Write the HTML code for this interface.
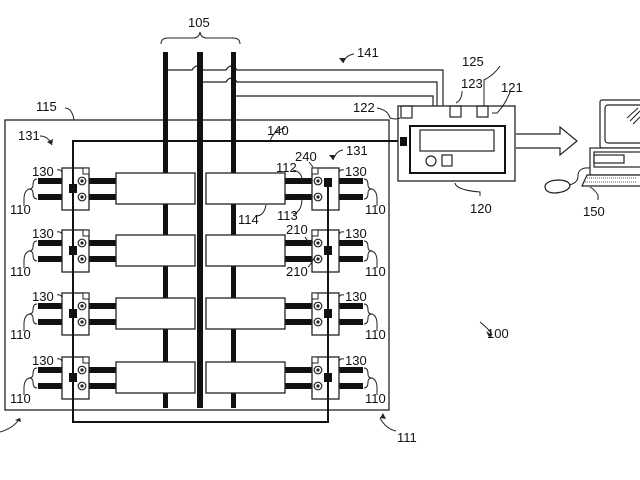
<!DOCTYPE html>
<html><head><meta charset="utf-8"><style>
html,body{margin:0;padding:0;background:#fff;}
svg{display:block;}
text{font-family:"Liberation Sans",sans-serif;font-size:13px;fill:#111;}
</style></head><body>
<svg width="640" height="480" viewBox="0 0 640 480" xmlns="http://www.w3.org/2000/svg">
<defs>
<g id="row">
  <rect x="38" y="5" width="78" height="6" fill="#111"/>
  <rect x="38" y="21" width="78" height="6" fill="#111"/>
  <rect x="285" y="5" width="78" height="6" fill="#111"/>
  <rect x="285" y="21" width="78" height="6" fill="#111"/>
  <rect x="62" y="-5" width="27" height="42" fill="#fff" stroke="#222" stroke-width="1.3"/>
  <rect x="83" y="-5" width="6" height="6" fill="#fff" stroke="#222" stroke-width="1"/>
  <circle cx="82" cy="8" r="3.8" fill="#fff" stroke="#222" stroke-width="1.2"/>
  <circle cx="82" cy="8" r="1.6" fill="#222"/>
  <circle cx="82" cy="24" r="3.8" fill="#fff" stroke="#222" stroke-width="1.2"/>
  <circle cx="82" cy="24" r="1.6" fill="#222"/>
  <rect x="312" y="-5" width="27" height="42" fill="#fff" stroke="#222" stroke-width="1.3"/>
  <rect x="312" y="-5" width="6" height="6" fill="#fff" stroke="#222" stroke-width="1"/>
  <circle cx="318" cy="8" r="3.8" fill="#fff" stroke="#222" stroke-width="1.2"/>
  <circle cx="318" cy="8" r="1.6" fill="#222"/>
  <circle cx="318" cy="24" r="3.8" fill="#fff" stroke="#222" stroke-width="1.2"/>
  <circle cx="318" cy="24" r="1.6" fill="#222"/>
  <path d="M37,6 Q33,6 33,12 Q33,16 29,16 Q33,16 33,20 Q33,26 37,26" fill="none" stroke="#222" stroke-width="1"/>
  <path d="M29,16 Q24,18 24,26 L24,33" fill="none" stroke="#222" stroke-width="1"/>
  <path d="M364,6 Q368,6 368,12 Q368,16 372,16 Q368,16 368,20 Q368,26 364,26" fill="none" stroke="#222" stroke-width="1"/>
  <path d="M372,16 Q377,18 377,26 L377,33" fill="none" stroke="#222" stroke-width="1"/>
  <path d="M57,-3 Q60,-4 62,-1" fill="none" stroke="#222" stroke-width="1"/>
  <path d="M339,-1 Q341,-4 344,-3" fill="none" stroke="#222" stroke-width="1"/>
</g>
<g id="boxes">
  <rect x="116" y="0" width="79" height="31" fill="#fff" stroke="#222" stroke-width="1.3"/>
  <rect x="206" y="0" width="79" height="31" fill="#fff" stroke="#222" stroke-width="1.3"/>
</g>
</defs>

<rect x="5" y="120" width="384" height="290" fill="none" stroke="#222" stroke-width="1.3"/>

<g fill="none" stroke="#222" stroke-width="1.2">
  <path d="M168,70 L192,70 Q197,62 203,70 L226,70 Q231,62 237,70 L443,70 L443,106"/>
  <path d="M203,82 L226,82 Q231,74 237,82 L437,82 L437,106"/>
  <path d="M236,96 L433,96 L433,106"/>
</g>

<rect x="163" y="52" width="5" height="356" fill="#111"/>
<rect x="197" y="52" width="6" height="356" fill="#111"/>
<rect x="231" y="52" width="5" height="356" fill="#111"/>

<use href="#row" transform="translate(0,173)"/>
<use href="#row" transform="translate(0,235)"/>
<use href="#row" transform="translate(0,298)"/>
<use href="#row" transform="translate(0,362)"/>
<use href="#boxes" transform="translate(0,173)"/>
<use href="#boxes" transform="translate(0,235)"/>
<use href="#boxes" transform="translate(0,298)"/>
<use href="#boxes" transform="translate(0,362)"/>

<path d="M404,141 L73,141 L73,422 L328,422 L328,180" fill="none" stroke="#111" stroke-width="2"/>
<g fill="#111">
  <rect x="69" y="184" width="8" height="9"/>
  <rect x="69" y="246" width="8" height="9"/>
  <rect x="69" y="309" width="8" height="9"/>
  <rect x="69" y="373" width="8" height="9"/>
  <rect x="324" y="178" width="8" height="9"/>
  <rect x="324" y="246" width="8" height="9"/>
  <rect x="324" y="309" width="8" height="9"/>
  <rect x="324" y="373" width="8" height="9"/>
</g>

<rect x="398" y="106" width="117" height="75" fill="#fff" stroke="#222" stroke-width="1.3"/>
<rect x="410" y="126" width="95" height="47" fill="none" stroke="#111" stroke-width="2"/>
<rect x="420" y="130" width="74" height="21" fill="none" stroke="#222" stroke-width="1.2"/>
<circle cx="431" cy="161" r="5" fill="none" stroke="#222" stroke-width="1.2"/>
<rect x="442" y="155" width="10" height="11" fill="none" stroke="#222" stroke-width="1.2"/>
<rect x="401" y="106" width="11" height="12" fill="none" stroke="#222" stroke-width="1.2"/>
<rect x="450" y="106" width="11" height="11" fill="none" stroke="#222" stroke-width="1.2"/>
<rect x="477" y="106" width="11" height="11" fill="none" stroke="#222" stroke-width="1.2"/>
<rect x="400" y="137" width="7" height="9" fill="#111"/>

<path d="M516,134 L560,134 L560,127 L577,141 L560,155 L560,148 L516,148" fill="#fff" stroke="#222" stroke-width="1.2"/>

<g fill="#fff" stroke="#222" stroke-width="1.2">
  <rect x="600" y="100" width="45" height="48" rx="2"/>
  <rect x="605" y="105" width="40" height="38" rx="3"/>
  <rect x="590" y="148" width="55" height="27"/>
  <rect x="594" y="152" width="50" height="15"/>
  <rect x="594" y="155" width="30" height="8"/>
  <path d="M587,175 L645,175 L645,186 L582,186 Z"/>
  <path d="M545,186 Q547,180 560,180 Q570,181 570,186 Q568,192 555,193 Q545,193 545,186 Z"/>
</g>
<path d="M627,118 L638,108 M630,121 L640,111 M633,124 L640,117" stroke="#222" stroke-width="1"/>
<path d="M585,178 L636,178 M585,182 L636,182" stroke="#555" stroke-width="1" stroke-dasharray="1,1"/>
<path d="M569,185 Q578,183 578,176 Q578,167 590,168" fill="none" stroke="#222" stroke-width="1"/>
<path d="M590,187 Q595,190 598,195 L598,200" fill="none" stroke="#222" stroke-width="1"/>

<g fill="none" stroke="#222" stroke-width="1">
  <path d="M161,44 Q161,38 168,38 L193,38 Q199,38 200,32 Q201,38 207,38 L233,38 Q240,38 240,44"/>
  <path d="M65,108 Q72,108 74,120"/>
  <path d="M40,136 Q48,136 52,145"/>
  <path d="M354,54 Q346,55 343,63"/>
  <path d="M343,150 Q336,151 333,160"/>
  <path d="M377,108 Q388,110 390,118 Q396,120 400,118"/>
  <path d="M462,91 Q462,100 456,103"/>
  <path d="M500,66 Q494,75 484,80 L484,106"/>
  <path d="M510,92 Q505,105 497,113 L492,113"/>
  <path d="M455,183 Q456,190 480,192 L480,196"/>
  <path d="M285,128 Q274,130 270,141"/>
  <path d="M293,170 Q302,172 302,180"/>
  <path d="M309,162 L313,167"/>
  <path d="M256,216 Q264,216 266,205"/>
  <path d="M293,214 Q302,212 302,198"/>
  <path d="M305,237 Q308,243 313,242"/>
  <path d="M308,267 Q312,263 314,258"/>
  <path d="M480,322 Q490,330 492,335"/>
  <path d="M396,431 Q386,429 380,418"/>
  <path d="M0,432 Q14,428 20,418"/>
</g>
<path d="M343,63 l-4,-5 l7,0 z M333,160 l-4,-5 l7,0 z M52,145 l-5,-3 l6,-3 z M380,418 l6,1 l-3,-6 z M20,418 l-5,2 l6,2 z M492,335 l-6,-4 l3,6 z" fill="#222"/>

<text x="188" y="27">105</text>
<text x="357" y="57">141</text>
<text x="462" y="66">125</text>
<text x="461" y="88">123</text>
<text x="501" y="92">121</text>
<text x="353" y="112">122</text>
<text x="36" y="111">115</text>
<text x="18" y="140">131</text>
<text x="267" y="135">140</text>
<text x="295" y="161">240</text>
<text x="346" y="155">131</text>
<text x="276" y="172">112</text>
<text x="238" y="224">114</text>
<text x="277" y="220">113</text>
<text x="286" y="234">210</text>
<text x="286" y="276">210</text>
<text x="470" y="213">120</text>
<text x="583" y="216">150</text>
<text x="487" y="338">100</text>
<text x="397" y="442">111</text>

<text x="32" y="176">130</text>
<text x="32" y="238">130</text>
<text x="32" y="301">130</text>
<text x="32" y="365">130</text>
<text x="10" y="214">110</text>
<text x="10" y="276">110</text>
<text x="10" y="339">110</text>
<text x="10" y="403">110</text>
<text x="345" y="176">130</text>
<text x="345" y="238">130</text>
<text x="345" y="301">130</text>
<text x="345" y="365">130</text>
<text x="365" y="214">110</text>
<text x="365" y="276">110</text>
<text x="365" y="339">110</text>
<text x="365" y="403">110</text>
</svg>
</body></html>
